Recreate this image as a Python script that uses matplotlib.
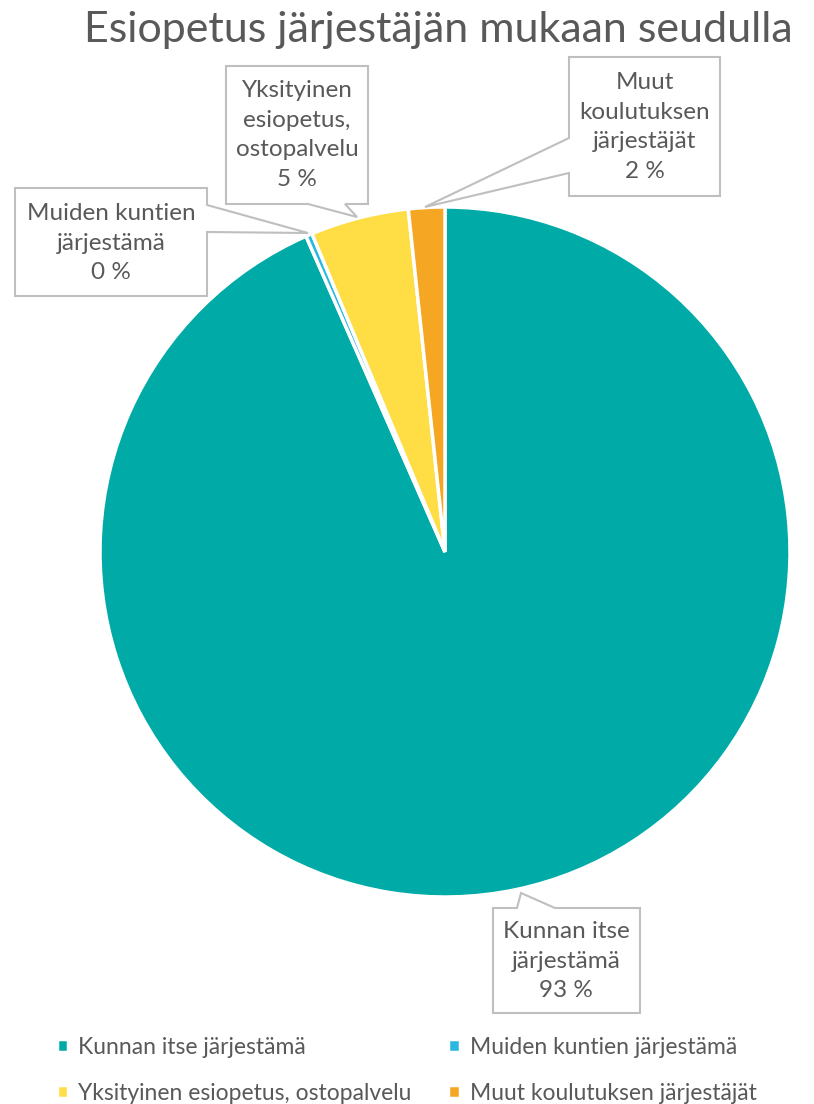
import matplotlib.pyplot as plt
from matplotlib.patches import Polygon

plt.rcParams['font.family'] = ['Lato', 'DejaVu Sans']

# data
categories = ['Kunnan itse järjestämä', 'Muiden kuntien järjestämä',
              'Yksityinen esiopetus, ostopalvelu', 'Muut koulutuksen järjestäjät']
values = [93.4, 0.3, 4.6, 1.7]
label_texts = ['Kunnan itse\njärjestämä\n93 %', 'Muiden kuntien\njärjestämä\n0 %',
               'Yksityinen\nesiopetus,\nostopalvelu\n5 %', 'Muut\nkoulutuksen\njärjestäjät\n2 %']
colors = ['#00ABA7', '#2BB8E0', '#FEDD45', '#F5A623']

W, H = 814, 1104
fig = plt.figure(figsize=(W / 100, H / 100), dpi=100)
ax = fig.add_axes([0, 0, 1, 1])

def Y(y):
    # pixel row (from top) to data y
    return H - y

cx, cy, r = 445, 552, 345
wedges, _ = ax.pie(values, colors=colors, startangle=90, counterclock=False,
                   center=(cx, Y(cy)), radius=r, frame=True,
                   wedgeprops=dict(edgecolor='white', linewidth=2.5))
ax.set_xlim(0, W)
ax.set_ylim(0, H)
ax.set_aspect('equal')
ax.axis('off')

ax.text(438, Y(30), 'Esiopetus järjestäjän mukaan seudulla', ha='center', va='center',
        fontsize=31, color='#595959')

gray = '#BFBFBF'
txt_col = '#595959'

# callout shapes (box + pointer), pixel coords from top
callouts = [
    # Kunnan
    ([(493, 908), (517, 908), (521, 893), (555, 908), (640, 908), (640, 1013), (493, 1013)],
     (566, 961)),
    # Muiden
    ([(15, 188), (207, 188), (207, 205), (308, 233), (207, 232), (207, 296), (15, 296)],
     (111, 243)),
    # Yksityinen
    ([(226, 66), (368, 66), (368, 204), (345, 204), (357, 217), (308, 204), (226, 204)],
     (297, 135)),
    # Muut
    ([(569, 57), (720, 57), (720, 196), (569, 196), (569, 173), (425, 207), (569, 138)],
     (645, 127)),
]
for (pts, (tx, ty)), lab in zip(callouts, label_texts):
    ax.add_patch(Polygon([(x, Y(y)) for x, y in pts], closed=True, facecolor='white',
                         edgecolor=gray, linewidth=1.5, zorder=3))
    ax.text(tx, Y(ty), lab, ha='center', va='center', fontsize=17.5, color=txt_col,
            linespacing=1.5, zorder=4)

# legend is filled row by row in the reference
order = [0, 2, 1, 3]
leg = ax.legend([wedges[i] for i in order], [categories[i] for i in order], ncol=2,
                loc='upper left', frameon=False,
                bbox_to_anchor=(36, Y(1016)), bbox_transform=ax.transData,
                fontsize=16.5, handlelength=0.5, handleheight=0.5, handletextpad=0.45,
                columnspacing=1.6, labelspacing=1.1, labelcolor=txt_col)

fig.savefig('out.png', dpi=100)
